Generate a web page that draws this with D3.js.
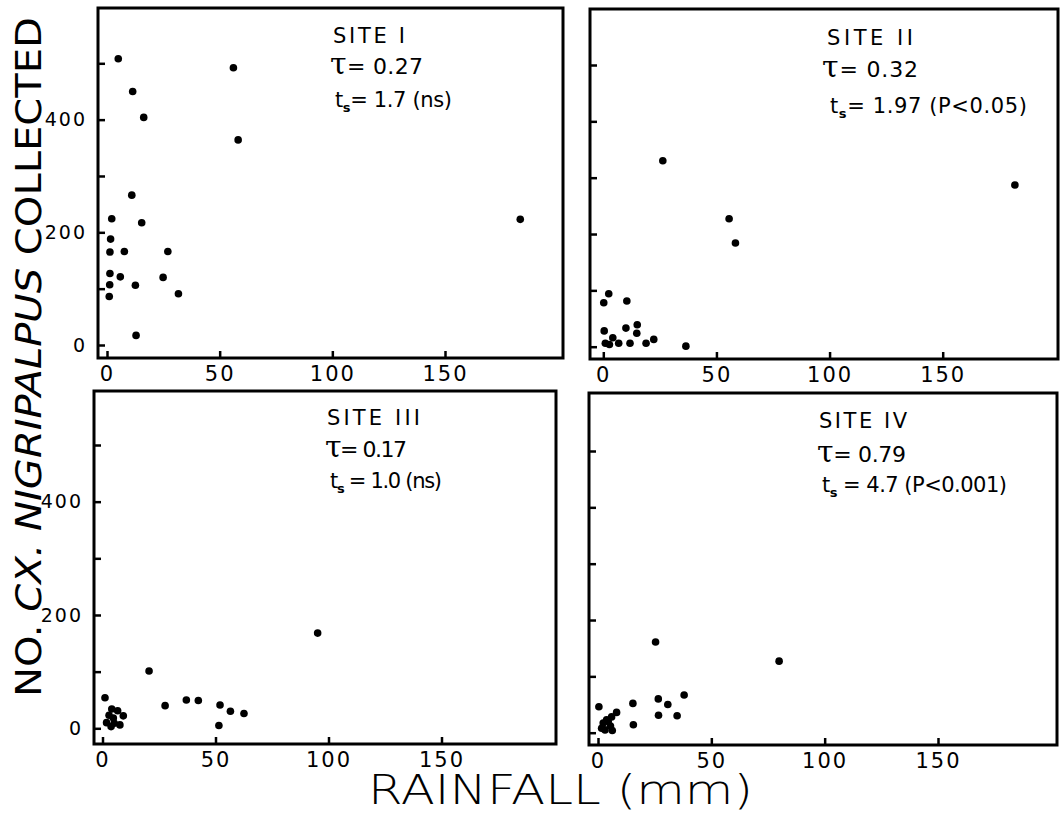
<!DOCTYPE html>
<html>
<head>
<meta charset="utf-8">
<script src="https://cdn.jsdelivr.net/npm/d3@7"></script>
<style>
  body { margin: 0; background: #fff; }
  svg { display: block; }
</style>
</head>
<body>
<svg id="chart" width="1064" height="814"></svg>
<script>
//data: rainfall (mm) vs number collected
let siteNames = ["SITE I", "SITE II", "SITE III", "SITE IV"];
let tauValues = ["0.27", "0.32", "0.17", "0.79"];
let tsValues = ["1.7 (ns)", "1.97 (P<0.05)", "1.0 (ns)", "4.7 (P<0.001)"];
let tsSep = ["= ", "= ", " = ", " = "];

let rain1 = [5.0, 56.1, 11.4, 16.3, 58.2, 11.0, 2.1, 15.4, 183.4, 1.6, 1.3, 7.7, 27.0, 1.3, 5.9, 24.9, 1.2, 12.6, 1.0, 31.7, 12.9];
let count1 = [508, 492, 450, 404, 364, 266, 224, 217, 223, 188, 165, 166, 166, 127, 121, 120, 107, 106, 86, 91, 17];

let rain2 = [26.3, 181.9, 55.6, 58.4, 2.4, 0.2, 10.4, 0.4, 10.0, 15.0, 14.8, 4.2, 0.9, 2.7, 6.8, 11.8, 18.9, 22.3, 36.5];
let count2 = [330, 287, 227, 184, 94, 78, 81, 28, 33, 39, 24, 16, 6, 4, 6, 6, 6, 13, 1];

let rain3 = [95.2, 20.6, 1.1, 27.7, 37.1, 42.4, 52.0, 56.6, 62.6, 51.5, 4.1, 6.7, 9.2, 2.9, 4.8, 1.8, 5.2, 7.7, 3.8];
let count3 = [168, 101, 54, 40, 50, 49, 41, 30, 26, 5, 34, 31, 22, 23, 18, 10, 9, 6, 3];

let rain4 = [25.4, 79.9, 38.0, 26.6, 30.8, 15.4, 0.4, 26.7, 34.9, 15.6, 6.3, 8.2, 6.0, 3.8, 2.3, 1.6, 4.5, 3.1, 5.5];
let count4 = [161, 127, 67, 60, 50, 52, 46, 31, 30, 14, 4, 36, 28, 23, 17, 8, 20, 5, 12];

let xTicks = [0, 50, 100, 150];
let yTicks = [0, 100, 200, 300, 400, 500];
let yLabels = [0, 200, 400];

//layout of the four panels
let panels = [
    {rain: rain1, count: count1, frame: [98, 8, 563, 358], xr: [107, 445], yr: [345, 63.3], yText: true,
     tx: [333, 330, 335], ty: [43, 74, 107], tw: [72, 93, 117]},
    {rain: rain2, count: count2, frame: [590, 9, 1058, 359], xr: [603.3, 942.7], yr: [346.7, 65], yText: false,
     tx: [827, 822, 830], ty: [45, 77, 113], tw: [86, 96, 197]},
    {rain: rain3, count: count3, frame: [94, 391, 556, 744], xr: [102.5, 441.5], yr: [728.3, 445], yText: true,
     tx: [327, 325, 330], ty: [425, 457, 488], tw: [93, 82, 112]},
    {rain: rain4, count: count4, frame: [589, 393, 1057, 745], xr: [598, 938], yr: [732.7, 451], yText: false,
     tx: [819, 817, 822], ty: [428, 462, 492], tw: [88, 89, 185]}
];

let font = "'DejaVu Sans', sans-serif";
let svg = d3.select("#chart");

panels.forEach(function(p, i) {

    let x = d3.scaleLinear().domain([0, 150]).range(p.xr);
    let y = d3.scaleLinear().domain([0, 500]).range(p.yr);
    let g = svg.append("g");

    //frame
    g.append("rect")
        .attr("x", p.frame[0])
        .attr("y", p.frame[1])
        .attr("width", p.frame[2] - p.frame[0])
        .attr("height", p.frame[3] - p.frame[1])
        .attr("fill", "none")
        .attr("stroke", "#000")
        .attr("stroke-width", 3);

    //left axis, ticks inward
    let yAxis = g.append("g")
        .attr("transform", "translate(" + p.frame[0] + ",0)")
        .call(d3.axisLeft(y)
            .tickValues(yTicks)
            .tickSize(-7)
            .tickPadding(11)
            .tickFormat(d => (p.yText && yLabels.includes(d)) ? d : ""));
    yAxis.select(".domain").remove();
    yAxis.selectAll("line").attr("stroke-width", 2.5);
    yAxis.selectAll("text")
        .attr("font-family", font)
        .attr("font-size", 19)
        .attr("letter-spacing", 2)
        .attr("fill", "#000");

    //bottom axis, ticks inward
    let xAxis = g.append("g")
        .attr("transform", "translate(0," + p.frame[3] + ")")
        .call(d3.axisBottom(x)
            .tickValues(xTicks)
            .tickSize(-7)
            .tickPadding(8));
    xAxis.select(".domain").remove();
    xAxis.selectAll("line").attr("stroke-width", 2.5);
    xAxis.selectAll("text")
        .attr("font-family", font)
        .attr("font-size", 21)
        .attr("letter-spacing", 2)
        .attr("fill", "#000");

    //points
    g.selectAll("circle")
        .data(p.rain.map((r, k) => ({rain: r, count: p.count[k]})))
        .enter()
        .append("circle")
        .attr("cx", d => x(d.rain))
        .attr("cy", d => y(d.count))
        .attr("r", 3.8)
        .attr("fill", "#000");

    //annotation
    g.append("text")
        .attr("x", p.tx[0])
        .attr("y", p.ty[0])
        .attr("font-family", font)
        .attr("font-size", 21)
        .attr("textLength", p.tw[0])
        .attr("lengthAdjust", "spacing")
        .text(siteNames[i]);

    let tau = g.append("text")
        .attr("x", p.tx[1])
        .attr("y", p.ty[1])
        .attr("font-family", font)
        .attr("font-size", 22)
        .attr("textLength", p.tw[1])
        .attr("lengthAdjust", "spacing");
    tau.append("tspan").attr("font-size", 30).attr("font-family", "'DejaVu Serif', serif").text("τ");
    tau.append("tspan").text("= " + tauValues[i]);

    let ts = g.append("text")
        .attr("x", p.tx[2])
        .attr("y", p.ty[2])
        .attr("font-family", font)
        .attr("font-size", 21)
        .attr("textLength", p.tw[2])
        .attr("lengthAdjust", "spacing");
    ts.append("tspan").text("t");
    ts.append("tspan").attr("font-size", 13).attr("font-weight", "bold").attr("dy", 5).text("s");
    ts.append("tspan").attr("dy", -5).text(tsSep[i] + tsValues[i]);
});

//axis titles
let yTitle = svg.append("text")
    .attr("transform", "translate(41,357) rotate(-90)")
    .attr("text-anchor", "middle")
    .attr("font-family", "'DejaVu Sans Condensed', 'DejaVu Sans', sans-serif")
    .attr("font-size", 35)
    .attr("textLength", 680)
    .attr("lengthAdjust", "spacingAndGlyphs");
yTitle.append("tspan").text("NO.  ");
yTitle.append("tspan").attr("font-style", "italic").text("CX.  NIGRIPALPUS");
yTitle.append("tspan").text("  COLLECTED");

svg.append("text")
    .attr("x", 368)
    .attr("y", 804)
    .attr("font-family", font)
    .attr("font-weight", 200)
    .attr("font-size", 40)
    .attr("textLength", 385)
    .attr("lengthAdjust", "spacingAndGlyphs")
    .text("RAINFALL  (mm)");
</script>
</body>
</html>
